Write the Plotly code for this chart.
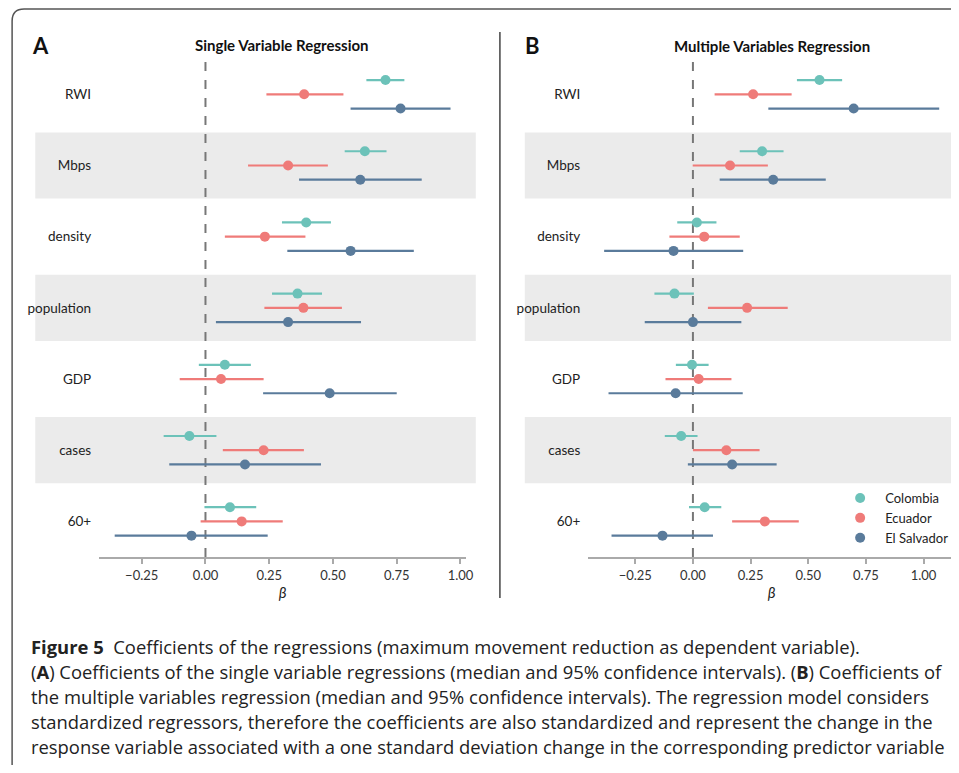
import plotly.graph_objects as go

categories = ["RWI", "Mbps", "density", "population", "GDP", "cases", "60+"]
countries = ["Colombia", "Ecuador", "El Salvador"]
colors = ["#6cc2b9", "#ef7b79", "#5a7b9b"]

# Panel A: single variable regression (median, lower, upper)
a_col_med = [0.706, 0.625, 0.395, 0.361, 0.076, -0.063, 0.096]
a_col_lo = [0.631, 0.546, 0.300, 0.261, -0.026, -0.164, -0.004]
a_col_hi = [0.780, 0.710, 0.492, 0.457, 0.178, 0.043, 0.199]
a_ecu_med = [0.387, 0.324, 0.233, 0.384, 0.061, 0.228, 0.142]
a_ecu_lo = [0.239, 0.167, 0.076, 0.231, -0.101, 0.068, -0.019]
a_ecu_hi = [0.541, 0.480, 0.392, 0.535, 0.228, 0.386, 0.303]
a_slv_med = [0.765, 0.607, 0.569, 0.324, 0.487, 0.155, -0.055]
a_slv_lo = [0.569, 0.367, 0.321, 0.041, 0.226, -0.142, -0.356]
a_slv_hi = [0.961, 0.848, 0.817, 0.610, 0.750, 0.453, 0.244]

# Panel B: multiple variables regression
b_col_med = [0.549, 0.300, 0.017, -0.080, -0.004, -0.051, 0.051]
b_col_lo = [0.451, 0.203, -0.068, -0.167, -0.074, -0.122, -0.017]
b_col_hi = [0.647, 0.393, 0.102, 0.004, 0.068, 0.020, 0.123]
b_ecu_med = [0.261, 0.161, 0.049, 0.235, 0.025, 0.145, 0.312]
b_ecu_lo = [0.094, -0.001, -0.102, 0.065, -0.119, 0.000, 0.170]
b_ecu_hi = [0.428, 0.325, 0.203, 0.411, 0.167, 0.289, 0.459]
b_slv_med = [0.697, 0.348, -0.084, 0.000, -0.075, 0.170, -0.132]
b_slv_lo = [0.327, 0.116, -0.385, -0.209, -0.366, -0.022, -0.353]
b_slv_hi = [1.068, 0.576, 0.218, 0.210, 0.216, 0.363, 0.087]

tick_vals = [-0.25, 0.0, 0.25, 0.5, 0.75, 1.0]
tick_text = ["\u22120.25", "0.00", "0.25", "0.50", "0.75", "1.00"]

caption_lines = [
    "<b>Figure 5</b>  Coefficients of the regressions (maximum movement reduction as dependent variable).",
    "(<b>A</b>) Coefficients of the single variable regressions (median and 95% confidence intervals). (<b>B</b>) Coefficients of",
    "the multiple variables regression (median and 95% confidence intervals). The regression model considers",
    "standardized regressors, therefore the coefficients are also standardized and represent the change in the",
    "response variable associated with a one standard deviation change in the corresponding predictor variable",
]

# layout helpers: page has an 8px body margin; slight horizontal scale observed in the photo
OFF = 8
SX = 0.988
FW, FH = 959, 757
FONT = "Lato"


def px(x):
    return (x / SX - OFF) / FW


def py(y):
    return 1 - (y - OFF) / FH


offsets = [-0.2, 0.0, 0.2]
panels = [
    ("x", "y", [(a_col_med, a_col_lo, a_col_hi), (a_ecu_med, a_ecu_lo, a_ecu_hi), (a_slv_med, a_slv_lo, a_slv_hi)], False),
    ("x2", "y2", [(b_col_med, b_col_lo, b_col_hi), (b_ecu_med, b_ecu_lo, b_ecu_hi), (b_slv_med, b_slv_lo, b_slv_hi)], True),
]

fig = go.Figure()
for xa, ya, series, show in panels:
    for k, (med, lo, hi) in enumerate(series):
        ys = [i + offsets[k] for i in range(len(categories))]
        fig.add_trace(go.Scatter(
            x=med, y=ys, xaxis=xa, yaxis=ya, mode="markers",
            name=countries[k], showlegend=show,
            marker=dict(color=colors[k], size=10),
            error_x=dict(type="data", symmetric=False,
                         array=[h - m for h, m in zip(hi, med)],
                         arrayminus=[m - l for m, l in zip(med, lo)],
                         color=colors[k], thickness=2.2, width=0),
        ))

shapes = []
# gray bands for alternate rows
for xref, x0, x1 in [("x domain", -0.174, 1.0265), ("x2 domain", -0.173, 1.013)]:
    yref = "y" if xref == "x domain" else "y2"
    for i in range(len(categories)):
        if i % 2 == 1:
            shapes.append(dict(type="rect", xref=xref, yref=yref, x0=x0, x1=x1,
                               y0=i - 0.465, y1=i + 0.465, fillcolor="#ebebeb",
                               line=dict(width=0), layer="below"))
# dashed zero lines
for xr, yr in [("x", "y domain"), ("x2", "y2 domain")]:
    shapes.append(dict(type="line", xref=xr, yref=yr, x0=0, x1=0, y0=0, y1=1,
                       line=dict(color="#777777", width=2, dash="dash"), layer="below"))
# outer frame (rounded top-left corner)
path = (f"M {px(12)},0 L {px(12)},{py(21)} Q {px(12)},{py(9)} {px(24)},{py(9)} "
        f"L 1,{py(9)}")
shapes.append(dict(type="path", xref="paper", yref="paper", path=path,
                   line=dict(color="#555555", width=1.5)))
# divider between panels
shapes.append(dict(type="line", xref="paper", yref="paper", x0=px(498), x1=px(498),
                   y0=py(32), y1=py(598), line=dict(color="#444444", width=1.5)))

annotations = [
    dict(text="<b>A</b>", x=px(40), y=py(46), font=dict(size=22, color="#111111")),
    dict(text="<b>B</b>", x=px(530), y=py(46), font=dict(size=22, color="#111111")),
    dict(text="<b>Single Variable Regression</b>", x=px(281), y=py(45), font=dict(size=15, color="#111111")),
    dict(text="<b>Multiple Variables Regression</b>", x=px(769), y=py(46), font=dict(size=15, color="#111111")),
]
for a in annotations:
    a.update(xref="paper", yref="paper", showarrow=False, xanchor="center", yanchor="middle")

cap_y = [646, 671, 696, 721, 746]
for line, yy in zip(caption_lines, cap_y):
    annotations.append(dict(text=line, xref="paper", yref="paper", x=px(29), y=py(yy),
                            xanchor="left", yanchor="middle", showarrow=False,
                            font=dict(size=18.4, color="#222222", family="Open Sans")))

xaxis_common = dict(showgrid=False, zeroline=False, showline=True, linecolor="#aaaaaa",
                    linewidth=2, ticks="outside", ticklen=5, tickwidth=2, tickcolor="#aaaaaa",
                    tickvals=tick_vals, ticktext=tick_text,
                    tickfont=dict(size=13, color="#333333"),
                    title=dict(text="<i>β</i>", font=dict(size=15, color="#222222"), standoff=6))
yaxis_common = dict(showgrid=False, zeroline=False, showline=False, ticks="",
                    tickvals=list(range(len(categories))), ticktext=categories,
                    range=[6.5, -0.5], tickfont=dict(size=13.5, color="#222222"),
                    ticklabelstandoff=7,
                    domain=[py(557), py(58.7)])

fig.update_layout(
    width=FW, height=FH, margin=dict(l=0, r=0, t=0, b=0),
    paper_bgcolor="white", plot_bgcolor="rgba(0,0,0,0)",
    font=dict(family=FONT, color="#222222"),
    xaxis=dict(domain=[px(98.7), px(464.3)], range=[-0.417, 1.022], anchor="y", **xaxis_common),
    xaxis2=dict(domain=[px(586), min(1.0, px(951.3))], range=[-0.454, 1.136], anchor="y2", **xaxis_common),
    yaxis=dict(anchor="x", **yaxis_common),
    yaxis2=dict(anchor="x2", **yaxis_common),
    shapes=shapes, annotations=annotations,
    legend=dict(x=px(832), y=py(483), xanchor="left", yanchor="top",
                bgcolor="rgba(0,0,0,0)", font=dict(size=13, color="#222222"),
                tracegroupgap=0, itemwidth=40),
)

fig.write_html("out.html")
